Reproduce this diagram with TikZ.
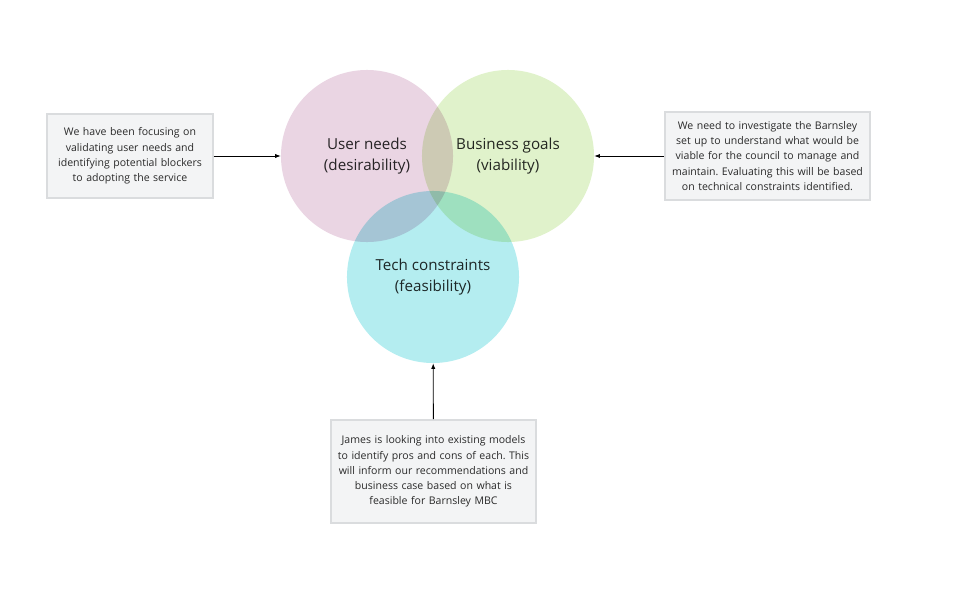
\documentclass[tikz,border=0pt]{standalone}
\usepackage{fontspec}
\setmainfont{Open Sans}
\usetikzlibrary{arrows.meta}
\definecolor{pinkc}{HTML}{EAD5E3}
\definecolor{greenc}{HTML}{E0F2CB}
\definecolor{cyanc}{HTML}{B4EDF0}
\definecolor{boxfill}{HTML}{F3F4F5}
\definecolor{boxline}{HTML}{DADCDE}
\definecolor{txt}{HTML}{2A2A2A}
\frenchspacing
\begin{document}
\begin{tikzpicture}[x=0.025cm, y=-0.025cm,
  ven/.style={circle, draw=none, minimum size=4.3cm, inner sep=0pt, align=center, text=txt,
    font=\fontsize{10.8}{15.5}\selectfont},
  note/.style={rectangle, draw=boxline, line width=1pt, fill=boxfill, align=center, text=txt,
    inner sep=2pt, font=\fontsize{7.5}{10.8}\selectfont},
  e/.style={-{Latex[length=4pt,width=3pt]}, line width=0.6pt, black}]
\useasboundingbox (0,0) rectangle (962,591);
\begin{scope}[blend mode=multiply]
\node[ven, fill=pinkc] (un) at (367,156) {User needs\\(desirability)};
\node[ven, fill=greenc] (bg) at (508,156) {Business goals\\(viability)};
\node[ven, fill=cyanc] (tc) at (433,277) {Tech constraints\\(feasibility)};
\end{scope}
\node[note, text width=3.95cm, minimum width=4.15cm, minimum height=2.1cm] (nl) at (130,156)
  {We have been focusing on\\validating user needs and\\identifying potential blockers\\to adopting the service};
\node[note, text width=4.95cm, minimum width=5.13cm, minimum height=2.2cm] (nr) at (767.5,156)
  {We need to investigate the Barnsley\\set up to understand what would be\\viable for the council to manage and\\maintain. Evaluating this will be based\\on technical constraints identified.};
\node[note, text width=4.95cm, minimum width=5.13cm, minimum height=2.58cm] (nb) at (433.5,471.5)
  {James is looking into existing models\\to identify pros and cons of each. This\\will inform our recommendations and\\business case based on what is\\feasible for Barnsley MBC};
\draw[e] (nl) -- (un);
\draw[e] (nr) -- (bg);
\draw[e] (nb) -- (tc);
\end{tikzpicture}
\end{document}
